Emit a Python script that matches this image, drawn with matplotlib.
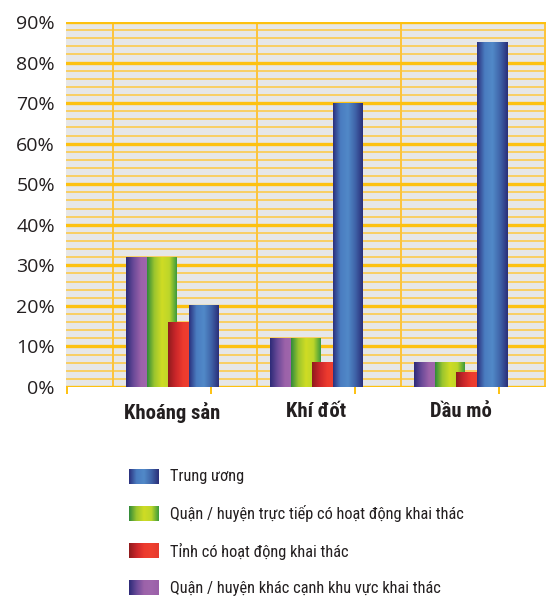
import numpy as np
import matplotlib
matplotlib.use("Agg")
import matplotlib.pyplot as plt
from matplotlib.colors import LinearSegmentedColormap
from matplotlib import font_manager

categories = ["Khoáng sản", "Khí đốt", "Dầu mỏ"]
series_names = [
    "Quận / huyện khác cạnh khu vực khai thác",
    "Quận / huyện trực tiếp có hoạt động khai thác",
    "Tỉnh có hoạt động khai thác",
    "Trung ương",
]
purple_vals = [32, 12, 6]
green_vals = [32, 12, 6]
red_vals = [16, 6, 3.5]
blue_vals = [20, 70, 85]
y_ticks = [0, 10, 20, 30, 40, 50, 60, 70, 80, 90]
y_tick_labels = [f"{v}%" for v in y_ticks]

# horizontal shading of each bar, left edge -> right edge
gradients = [
    ["#2c2a77", "#6a4a98", "#9c62a9", "#a067ad", "#9a5fa8"],
    ["#2f8a3a", "#9cc62e", "#cfdc24", "#bcd62a", "#3a9a3c"],
    ["#8e1b1d", "#c9262a", "#ec3a2e", "#ef4030", "#e63a2e"],
    ["#2a2f7c", "#4a7cc0", "#5189c8", "#3f63a8", "#2a2e78"],
]
cmaps = [LinearSegmentedColormap.from_list(f"g{i}", c) for i, c in enumerate(gradients)]
all_vals = [purple_vals, green_vals, red_vals, blue_vals]

# pick a narrow face if one is available
installed = {f.name for f in font_manager.fontManager.ttflist}
narrow = None
for cand in ["Liberation Sans Narrow", "Roboto Condensed", "Open Sans Condensed",
             "Noto Sans Condensed", "Arial Narrow", "DejaVu Sans Condensed"]:
    if cand in installed:
        narrow = cand
        break
if narrow is None:
    for f in font_manager.fontManager.ttflist:
        if ("Condensed" in f.name or "Narrow" in f.name) and f.name in installed:
            narrow = f.name
            break
if narrow is None:
    narrow = "Roboto"
narrow_scale = 1.0 if narrow != "Roboto" else 0.82

W, H = 546, 597
fig = plt.figure(figsize=(W / 100, H / 100), dpi=100)
ax = fig.add_axes([66 / W, (H - 387) / H, (W - 66) / W, (387 - 22) / H])

unit = 144.0
x0_lim = (66 - 172.5) / unit
x1_lim = (546 - 172.5) / unit

ax.set_facecolor("#e6e7e8")
for s in ax.spines.values():
    s.set_visible(False)

# grid: thick lines every 10 %, thin lines every 2 %
for v in np.arange(2, 90, 2):
    if v % 10:
        ax.axhline(v, color="#fccb4c", lw=1.2, zorder=1)
for v in y_ticks:
    ax.axhline(v, color="#fdc110", lw=2.4, zorder=1.2)
for gx in [(113 - 172.5) / unit + k for k in range(4)]:
    ax.axvline(gx, color="#fdc43a", lw=1.4, zorder=1.1)

width = 30 / unit
step = 21 / unit
offsets = [(-1.5 + i) * step for i in range(4)]
x = np.arange(len(categories))
grad = np.linspace(0, 1, 256).reshape(1, -1)
for i, (vals, cmap) in enumerate(zip(all_vals, cmaps)):
    bars = ax.bar(x + offsets[i], vals, width, color="none", zorder=3 + i)
    for b in bars:
        bx, by = b.get_x(), b.get_y()
        ax.imshow(grad, cmap=cmap, aspect="auto", interpolation="bilinear",
                  extent=[bx, bx + b.get_width(), by, by + b.get_height()],
                  zorder=3 + i)

ax.set_xlim(x0_lim, x1_lim)
ax.set_ylim(0, 90)
ax.set_yticks(y_ticks, y_tick_labels)
ax.tick_params(axis="y", length=0, pad=8, labelsize=14, labelcolor="#231f20")
for t in ax.get_yticklabels():
    t.set_fontfamily(["Open Sans", "DejaVu Sans"])

ax.set_xticks(x, categories)
ax.tick_params(axis="x", which="major", length=0, pad=11,
               labelsize=14.9 * narrow_scale, labelcolor="#231f20")
for t in ax.get_xticklabels():
    t.set_fontfamily([narrow, "DejaVu Sans"])
    t.set_fontweight("bold")
ax.set_xticks([(211 - 172.5) / unit + k for k in range(-1, 3)], minor=True)
ax.tick_params(axis="x", which="minor", length=5, width=1.4, color="#fdc110")

# legend block under the chart
lax = fig.add_axes([0, 0, 1, 1], zorder=-1)
lax.axis("off")
rows = [477, 514, 551, 588]
order = [3, 1, 2, 0]
for yc, idx in zip(rows, order):
    lax.imshow(grad, cmap=cmaps[idx], aspect="auto", interpolation="bilinear",
               extent=[129, 159, yc + 7.5, yc - 7.5])
    lax.text(170, yc, series_names[idx], va="center", ha="left",
             fontsize=11.8 * narrow_scale, color="#231f20",
             family=[narrow, "DejaVu Sans"])
lax.set_xlim(0, W)
lax.set_ylim(H, 0)

fig.savefig("out.png", dpi=100)
